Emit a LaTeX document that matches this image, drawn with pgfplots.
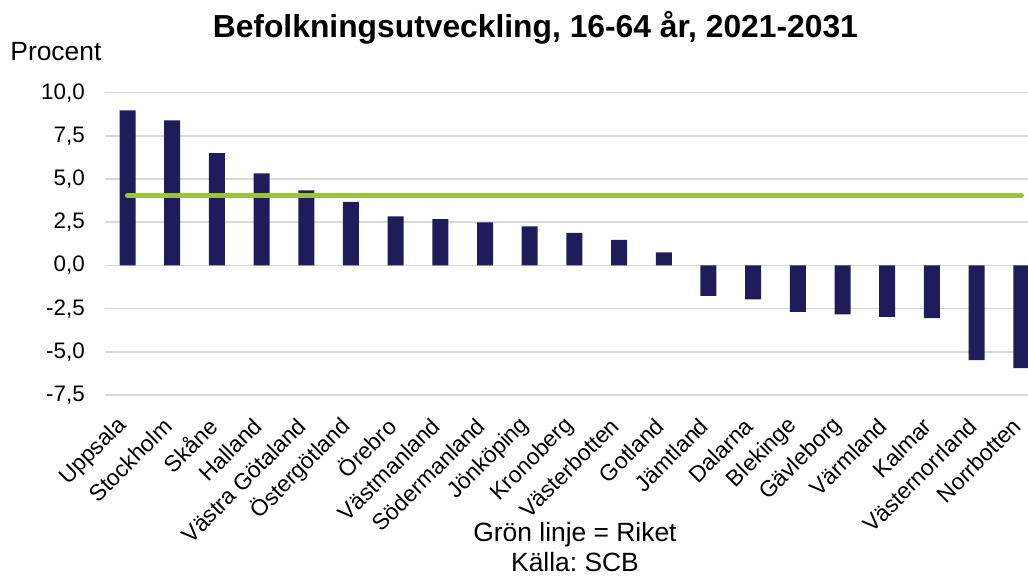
\documentclass[border=0pt]{standalone}
\usepackage{fontspec}
\setmainfont{Liberation Sans}
\usepackage{pgfplots}
\pgfplotsset{compat=1.18}
\definecolor{navy}{RGB}{32,28,92}
\definecolor{lgreen}{RGB}{155,195,60}
\definecolor{gridgray}{RGB}{217,217,217}
\frenchspacing
\begin{document}
\begin{tikzpicture}
\useasboundingbox (0,0) rectangle (514pt,288pt);
\begin{axis}[
  at={(52.6pt,90.5pt)}, anchor=south west,
  scale only axis, width=469.2pt, height=151.15pt,
  xmin=-0.5, xmax=20.5, ymin=-7.5, ymax=10,
  axis line style={draw=none},
  ytick={-7.5,-5,...,10},
  ymajorgrids, grid style={gridgray, line width=0.8pt},
  major tick length=0pt,
  xtick={0,...,20},
  xticklabels={Uppsala,Stockholm,Skåne,Halland,Västra Götaland,Östergötland,Örebro,Västmanland,Södermanland,Jönköping,Kronoberg,Västerbotten,Gotland,Jämtland,Dalarna,Blekinge,Gävleborg,Värmland,Kalmar,Västernorrland,Norrbotten},
  xticklabel style={font=\fontsize{11.4pt}{13pt}\selectfont, inner sep=0pt, xshift=-2pt, yshift=-13.5pt, rotate=45, anchor=east},
  yticklabel style={font=\fontsize{11.2pt}{13pt}\selectfont, inner sep=0pt, xshift=-10pt, anchor=east},
  /pgf/number format/.cd, fixed, fixed zerofill, precision=1, use comma, assume math mode=true,
]
\addplot[ybar, bar width=8pt, fill=navy, draw=none] coordinates {
(0,8.97) (1,8.40) (2,6.50) (3,5.33) (4,4.34) (5,3.68) (6,2.84) (7,2.68) (8,2.49) (9,2.26)
(10,1.89) (11,1.48) (12,0.75) (13,-1.76) (14,-1.97) (15,-2.69) (16,-2.84) (17,-2.98) (18,-3.05) (19,-5.48) (20,-5.95)};
\addplot[lgreen, line width=2.6pt, line cap=round, mark=none] coordinates {(0,4.05) (20,4.05)};
\end{axis}
\node[anchor=center, font=\bfseries\fontsize{15.9pt}{18pt}\selectfont] at (267.7pt,274pt) {Befolkningsutveckling, 16-64 år, 2021-2031};
\node[anchor=west, font=\fontsize{13.2pt}{15pt}\selectfont, inner sep=0pt] at (5pt,262pt) {Procent};
\node[anchor=center, font=\fontsize{13.2pt}{15pt}\selectfont] at (287.5pt,20.5pt) {Grön linje = Riket};
\node[anchor=center, font=\fontsize{13.2pt}{15pt}\selectfont] at (287.5pt,7pt) {Källa: SCB};
\end{tikzpicture}
\end{document}
